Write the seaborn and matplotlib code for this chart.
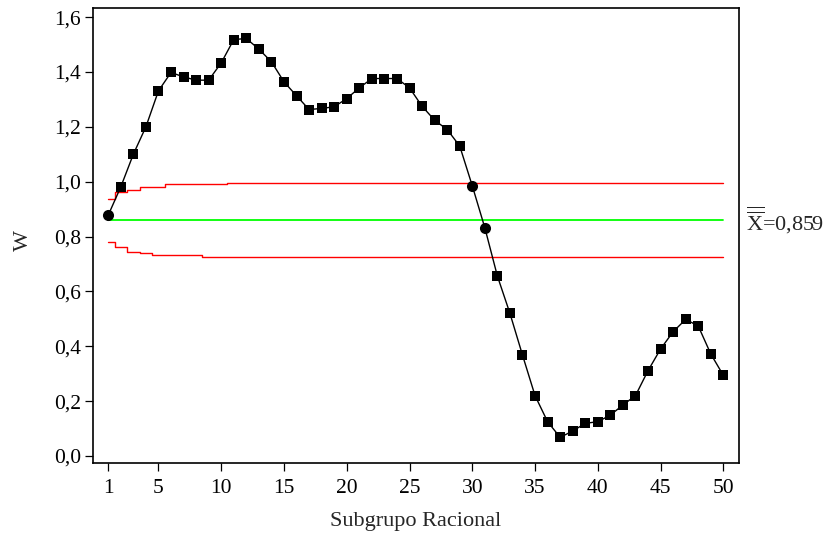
import numpy as np
import pandas as pd
import matplotlib
matplotlib.use("Agg")
import matplotlib.pyplot as plt
import matplotlib.transforms as mtransforms
from matplotlib.ticker import FuncFormatter
import seaborn as sns

# ---- data ----
subgroups = list(range(1, 51))
w_values = [0.878, 0.981, 1.100, 1.200, 1.331, 1.398, 1.382, 1.370, 1.370, 1.433,
            1.518, 1.522, 1.483, 1.437, 1.364, 1.313, 1.263, 1.267, 1.273, 1.303,
            1.342, 1.376, 1.376, 1.376, 1.342, 1.275, 1.224, 1.190, 1.130, 0.985,
            0.832, 0.656, 0.520, 0.368, 0.220, 0.125, 0.068, 0.091, 0.119, 0.125,
            0.149, 0.186, 0.220, 0.311, 0.390, 0.453, 0.498, 0.474, 0.372, 0.294]
ucl = [0.937, 0.963, 0.969, 0.981, 0.981, 0.990, 0.990, 0.990, 0.990, 0.990,
       0.994, 0.994, 0.994, 0.994, 0.994, 0.994, 0.994, 0.994, 0.994, 0.994,
       0.994, 0.994, 0.994, 0.994, 0.994, 0.994, 0.994, 0.994, 0.994, 0.994,
       0.994, 0.994, 0.994, 0.994, 0.994, 0.994, 0.994, 0.994, 0.994, 0.994,
       0.994, 0.994, 0.994, 0.994, 0.994, 0.994, 0.994, 0.994, 0.994, 0.994]
lcl = [0.779, 0.763, 0.745, 0.740, 0.733, 0.733, 0.733, 0.733, 0.726, 0.726,
       0.726, 0.726, 0.726, 0.726, 0.726, 0.726, 0.726, 0.726, 0.726, 0.726,
       0.726, 0.726, 0.726, 0.726, 0.726, 0.726, 0.726, 0.726, 0.726, 0.726,
       0.726, 0.726, 0.726, 0.726, 0.726, 0.726, 0.726, 0.726, 0.726, 0.726,
       0.726, 0.726, 0.726, 0.726, 0.726, 0.726, 0.726, 0.726, 0.726, 0.726]
center_value = 0.859
circle_points = [1, 30, 31]
x_ticks = [1, 5, 10, 15, 20, 25, 30, 35, 40, 45, 50]
y_ticks = [0.0, 0.2, 0.4, 0.6, 0.8, 1.0, 1.2, 1.4, 1.6]
x_label = "Subgrupo Racional"
y_label = "W"
center_label = r"$\overline{\overline{\mathrm{X}}}$=0,859"

df = pd.DataFrame({"sub": subgroups, "w": w_values, "ucl": ucl, "lcl": lcl,
                   "center": [center_value] * len(subgroups)})
df["circle"] = df["sub"].isin(circle_points)

sns.set_style("ticks")
plt.rcParams["font.family"] = ["Liberation Serif", "DejaVu Serif"]
plt.rcParams["mathtext.fontset"] = "custom"
plt.rcParams["mathtext.rm"] = "Liberation Serif"
plt.rcParams["mathtext.it"] = "Liberation Serif:italic"

fig = plt.figure(figsize=(8.26, 5.35), dpi=100)
ax = fig.add_axes([0.1122, 0.1346, 0.7825, 0.8504])

sns.lineplot(data=df, x="sub", y="ucl", ax=ax, color="#ff0000", linewidth=1.0,
             drawstyle="steps-mid", estimator=None)
sns.lineplot(data=df, x="sub", y="lcl", ax=ax, color="#ff0000", linewidth=1.0,
             drawstyle="steps-mid", estimator=None)
sns.lineplot(data=df, x="sub", y="center", ax=ax, color="#00ff00", linewidth=1.3,
             estimator=None)
sns.lineplot(data=df, x="sub", y="w", ax=ax, color="black", linewidth=1.0,
             estimator=None)
sns.scatterplot(data=df[~df["circle"]], x="sub", y="w", ax=ax, marker="s",
                color="black", s=42, linewidth=0, zorder=5)
sns.scatterplot(data=df[df["circle"]], x="sub", y="w", ax=ax, marker="o",
                color="black", s=64, linewidth=0, zorder=5)

ax.set_xlim(-0.24, 51.25)
ax.set_ylim(-0.0255, 1.633)
ax.set_xticks(x_ticks)
ax.set_yticks(y_ticks)
ax.yaxis.set_major_formatter(FuncFormatter(lambda v, p: f"{v:.1f}".replace(".", ",")))
ax.tick_params(axis="x", length=6, width=0.9, labelsize=15.5, colors="black", pad=5.5)
ax.tick_params(axis="y", length=5.5, width=0.9, labelsize=15.5, colors="black", pad=3)
for sp in ax.spines.values():
    sp.set_visible(True)
    sp.set_linewidth(1.2)
    sp.set_color("black")

ax.set_xlabel(x_label, fontsize=16, labelpad=10)
ax.set_ylabel(y_label, fontsize=16)
ax.yaxis.set_label_coords(-0.092, 0.49)

trans = mtransforms.blended_transform_factory(ax.transAxes, ax.transData)
ax.text(1.011, center_value, center_label, transform=trans, ha="left", va="center",
        fontsize=16)

fig.savefig("out.png", dpi=100)
